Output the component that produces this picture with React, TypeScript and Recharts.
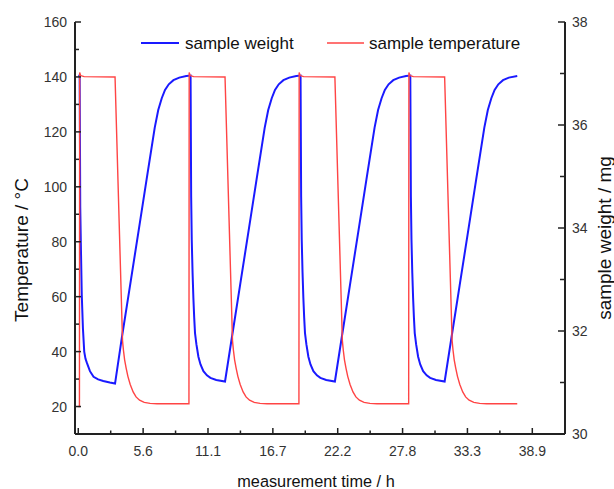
import { LineChart, Line, XAxis, YAxis, Legend } from 'recharts';

// sample temperature (left axis)
const TEMP_TIME_H = [
  0.0, 0.1, 0.12, 0.2, 0.5,
  3.15, 3.79, 3.87, 3.97, 4.1, 4.25, 4.45, 4.7, 4.95, 5.25, 5.65, 6.15, 6.75, 9.48,
  9.5, 9.58, 9.88,
  12.57, 13.21, 13.29, 13.39, 13.52, 13.67, 13.87, 14.12, 14.37, 14.67, 15.07, 15.57, 16.17, 18.9,
  18.92, 19.0, 19.3,
  21.98, 22.62, 22.7, 22.8, 22.93, 23.08, 23.28, 23.53, 23.78, 24.08, 24.48, 24.98, 25.58, 28.3,
  28.32, 28.4, 28.7,
  31.38, 32.02, 32.1, 32.2, 32.33, 32.48, 32.68, 32.93, 33.18, 33.48, 33.88, 34.38, 34.98, 37.6,
];
const TEMP_C = [
  20, 20, 141.6, 140.5, 140.1,
  140, 44, 40.5, 37, 34, 31, 28, 25.3, 23.5, 22.3, 21.5, 21.15, 21, 21,
  141.6, 140.5, 140.1,
  140, 44, 40.5, 37, 34, 31, 28, 25.3, 23.5, 22.3, 21.5, 21.15, 21, 21,
  141.6, 140.5, 140.1,
  140, 44, 40.5, 37, 34, 31, 28, 25.3, 23.5, 22.3, 21.5, 21.15, 21, 21,
  141.6, 140.5, 140.1,
  140, 44, 40.5, 37, 34, 31, 28, 25.3, 23.5, 22.3, 21.5, 21.15, 21, 21,
];

// sample weight (right axis)
const WEIGHT_TIME_H = [
  0.0, 0.12, 0.17, 0.23, 0.3, 0.4, 0.51, 0.62, 0.74, 1.0, 1.31, 1.7, 2.14, 2.7, 3.15,
  3.72, 4.44, 5.15, 5.85, 6.55, 6.85, 7.15, 7.43, 7.75, 8.15, 8.65, 9.25,
  9.62, 9.67, 9.72, 9.79, 9.86, 9.93, 10.0, 10.12, 10.29, 10.47, 10.72, 11.02, 11.32, 11.82, 12.57,
  13.14, 13.86, 14.57, 15.27, 15.97, 16.27, 16.57, 16.85, 17.17, 17.57, 18.07, 18.67,
  19.04, 19.09, 19.14, 19.21, 19.28, 19.35, 19.42, 19.54, 19.71, 19.89, 20.14, 20.44, 20.74, 21.24, 21.98,
  22.55, 23.27, 23.98, 24.68, 25.38, 25.68, 25.98, 26.26, 26.58, 26.98, 27.48, 28.08,
  28.44, 28.49, 28.54, 28.61, 28.68, 28.75, 28.82, 28.94, 29.11, 29.29, 29.54, 29.84, 30.14, 30.64, 31.38,
  31.95, 32.67, 33.38, 34.08, 34.78, 35.08, 35.38, 35.66, 35.98, 36.38, 36.88, 37.6,
];
const WEIGHT_MG = [
  36.96, 36.95, 34.4, 33.57, 32.7, 32.05, 31.6, 31.46, 31.38, 31.22, 31.11, 31.06, 31.03, 31.0, 30.98,
  31.85, 32.89, 33.92, 34.94, 35.95, 36.29, 36.52, 36.68, 36.79, 36.87, 36.92, 36.95,
  36.96, 34.6, 33.77, 33.13, 32.64, 32.26, 31.96, 31.74, 31.5, 31.35, 31.22, 31.14, 31.09, 31.05, 31.02,
  31.85, 32.89, 33.92, 34.94, 35.95, 36.29, 36.52, 36.68, 36.79, 36.87, 36.92, 36.95,
  36.96, 34.6, 33.77, 33.13, 32.64, 32.26, 31.96, 31.74, 31.5, 31.35, 31.22, 31.14, 31.09, 31.05, 31.02,
  31.85, 32.89, 33.92, 34.94, 35.95, 36.29, 36.52, 36.68, 36.79, 36.87, 36.92, 36.95,
  36.96, 34.6, 33.77, 33.13, 32.64, 32.26, 31.96, 31.74, 31.5, 31.35, 31.22, 31.14, 31.09, 31.05, 31.02,
  31.85, 32.89, 33.92, 34.94, 35.95, 36.29, 36.52, 36.68, 36.79, 36.87, 36.92, 36.95,
];

const X_TICKS = [0, 5.556, 11.111, 16.667, 22.222, 27.778, 33.333, 38.889];
const X_TICK_LABELS = ['0.0', '5.6', '11.1', '16.7', '22.2', '27.8', '33.3', '38.9'];
const X_MINOR_TICKS = [2.778, 8.333, 13.889, 19.444, 25, 30.556, 36.111];
const TEMP_TICKS = [20, 40, 60, 80, 100, 120, 140, 160];
const TEMP_MINOR_TICKS = [30, 50, 70, 90, 110, 130, 150];
const WEIGHT_TICKS = [30, 32, 34, 36, 38];
const WEIGHT_MINOR_TICKS = [31, 33, 35, 37];

const tempData = TEMP_TIME_H.map((t, i) => ({ t, temp: TEMP_C[i] }));
const weightData = WEIGHT_TIME_H.map((t, i) => ({ t, weight: WEIGHT_MG[i] }));

const BLUE = '#1a1aff';
const RED = '#ff4444';
const AXIS = '#222';
const FONT = '"Liberation Sans", Arial, sans-serif';

function BottomTick({ x, y, payload }: any) {
  const i = X_TICKS.indexOf(payload.value);
  const major = i >= 0;
  return (
    <g>
      <line x1={x} x2={x} y1={y} y2={y - (major ? 6 : 3.5)} stroke={AXIS} strokeWidth={1.5} />
      {major && (
        <text x={x} y={y + 22} textAnchor="middle" fontFamily={FONT} fontSize={14} fill="#333">
          {X_TICK_LABELS[i]}
        </text>
      )}
    </g>
  );
}

function LeftTick({ x, y, payload }: any) {
  const major = TEMP_TICKS.includes(payload.value);
  return (
    <g>
      <line x1={x} x2={x + (major ? 6 : 4)} y1={y} y2={y} stroke={AXIS} strokeWidth={1.5} />
      {major && (
        <text x={x - 8} y={y + 5} textAnchor="end" fontFamily={FONT} fontSize={14} fill="#333">
          {payload.value}
        </text>
      )}
    </g>
  );
}

function RightTick({ x, y, payload }: any) {
  const major = WEIGHT_TICKS.includes(payload.value);
  return (
    <g>
      <line x1={x} x2={x - (major ? 7 : 5)} y1={y} y2={y} stroke={AXIS} strokeWidth={1.5} />
      {major && (
        <text x={x + 7} y={y + 5} textAnchor="start" fontFamily={FONT} fontSize={14} fill="#333">
          {payload.value}
        </text>
      )}
    </g>
  );
}

function RotatedTitle({ tx, ty, text }: any) {
  return (
    <text
      x={tx}
      y={ty}
      transform={`rotate(-90 ${tx} ${ty})`}
      textAnchor="middle"
      fontFamily={FONT}
      fontSize={19}
      fill="#111"
    >
      {text}
    </text>
  );
}

function BottomTitle() {
  return (
    <text x={316} y={487} textAnchor="middle" fontFamily={FONT} fontSize={16.3} fill="#111">
      measurement time / h
    </text>
  );
}

function LegendBox() {
  return (
    <svg width={614} height={60} style={{ display: 'block' }}>
      <line x1={141} x2={179} y1={43} y2={43} stroke={BLUE} strokeWidth={2} />
      <text x={185} y={49} fontFamily={FONT} fontSize={17} fill="#111">sample weight</text>
      <line x1={327} x2={364} y1={43} y2={43} stroke={RED} strokeWidth={1.5} />
      <text x={369} y={49} fontFamily={FONT} fontSize={17} fill="#111">sample temperature</text>
    </svg>
  );
}

export default function App() {
  return (
    <div style={{ position: 'absolute', left: 0, top: 0, width: 614, height: 489, background: '#fff' }}>
      <LineChart width={614} height={489} margin={{ top: 22, right: 0, bottom: 0, left: 0 }}>
        <XAxis
          dataKey="t"
          type="number"
          domain={[-0.28, 41.69]}
          ticks={[...X_TICKS, ...X_MINOR_TICKS]}
          interval={0}
          height={55}
          tickSize={0}
          tickMargin={0}
          tickLine={false}
          tick={<BottomTick />}
          axisLine={{ stroke: AXIS, strokeWidth: 2 }}
          allowDataOverflow
          label={<BottomTitle />}
        />
        <XAxis
          xAxisId="top"
          orientation="top"
          dataKey="t"
          type="number"
          domain={[-0.28, 41.69]}
          height={0}
          tick={false}
          tickLine={false}
          axisLine={{ stroke: AXIS, strokeWidth: 2 }}
        />
        <YAxis
          yAxisId="left"
          type="number"
          domain={[10, 160]}
          ticks={[...TEMP_TICKS, ...TEMP_MINOR_TICKS]}
          interval={0}
          width={75}
          tickSize={0}
          tickMargin={0}
          tickLine={false}
          tick={<LeftTick />}
          axisLine={{ stroke: AXIS, strokeWidth: 2 }}
          allowDataOverflow
          label={<RotatedTitle tx={28} ty={250} text="Temperature / °C" />}
        />
        <YAxis
          yAxisId="right"
          orientation="right"
          type="number"
          domain={[30, 38]}
          ticks={[...WEIGHT_TICKS, ...WEIGHT_MINOR_TICKS]}
          interval={0}
          width={49}
          tickSize={0}
          tickMargin={0}
          tickLine={false}
          tick={<RightTick />}
          axisLine={{ stroke: AXIS, strokeWidth: 2 }}
          allowDataOverflow
          label={<RotatedTitle tx={611} ty={238} text="sample weight / mg" />}
        />
        <Legend
          layout="horizontal"
          verticalAlign="middle"
          align="center"
          wrapperStyle={{ left: 0, top: 0, width: 614, height: 60 }}
          content={<LegendBox />}
        />
        <Line
          data={weightData}
          yAxisId="right"
          dataKey="weight"
          type="linear"
          stroke={BLUE}
          strokeWidth={2}
          dot={false}
          isAnimationActive={false}
        />
        <Line
          data={tempData}
          yAxisId="left"
          dataKey="temp"
          type="linear"
          stroke={RED}
          strokeWidth={1.4}
          dot={false}
          isAnimationActive={false}
        />
      </LineChart>
    </div>
  );
}
